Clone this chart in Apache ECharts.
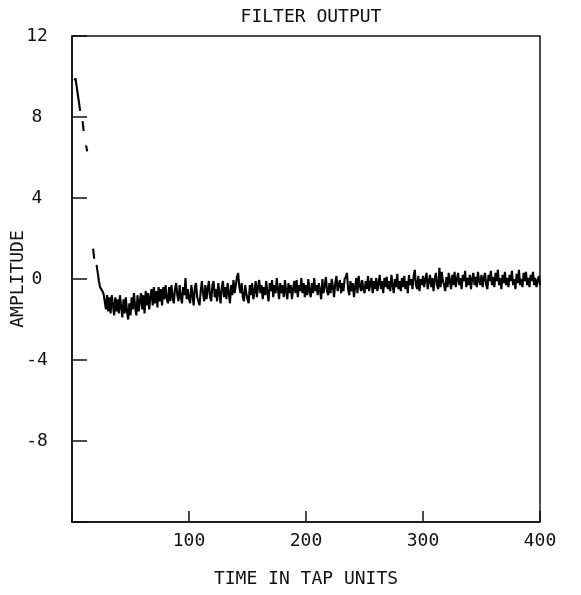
<!DOCTYPE html>
<html>
<head>
<meta charset="utf-8">
<script src="https://cdn.jsdelivr.net/npm/echarts@6/dist/echarts.min.js"></script>
<style>html,body{margin:0;padding:0;background:#fff}#c{width:581px;height:595px}</style>
</head>
<body>
<div id="c"></div>
<script>
// Amplitude per tap, tap index = array index (0..400); null = pen gap
var amplitude = [
  null, null, 9.8, 9.9, 9.5, 9.1, 8.7, 8.3, null, 7.8,
  7.3, null, 6.6, 6.3, null, null, null, null, 1.5, 1.0,
  null, 0.7, 0.3, -0.1, -0.4, -0.5, -0.6, -0.75, -0.7, -1.5,
  -0.8, -1.6, -0.9, -1.7, -0.8, -1.3, -1.8, -0.9, -1.6, -1.0,
  -1.7, -0.8, -1.4, -1.9, -1.0, -1.7, -0.9, -1.6, -2.0, -1.2,
  -1.8, -0.9, -1.5, -0.7, -1.4, -1.8, -0.8, -1.6, -1.1, -0.7,
  -1.5, -0.8, -1.7, -0.6, -1.3, -0.7, -1.5, -0.9, -0.5, -1.3,
  -0.4, -1.2, -0.6, -1.4, -0.4, -1.1, -0.5, -1.3, -0.4, -1.0,
  -0.3, -1.0, -1.2, -0.4, -1.1, -0.3, -0.9, -1.2, -0.5, -0.2,
  -0.8, -1.1, -0.3, -0.9, -1.2, -0.4, -0.8, 0.05, -1.0, -0.5,
  -1.0, -1.2, -0.3, -0.8, -1.3, -0.4, -0.2, -0.9, -1.1, -1.3,
  -0.6, -0.1, -0.7, -1.1, -0.3, -1.0, -0.5, -0.1, -0.9, -1.1,
  -0.3, -0.1, -0.9, -0.5, -1.1, -0.2, -0.7, -1.2, -0.4, -0.1,
  -0.9, -0.4, -1.0, -0.2, -0.7, -1.2, -0.3, -0.8, -0.05, -0.7,
  -0.3, 0.1, 0.3, -0.4, -0.7, -0.2, -0.9, -1.1, -0.3, -0.7,
  -1.0, -1.2, -0.3, -0.8, -0.2, -1.0, -0.6, -0.1, -0.9, -0.4,
  -0.05, -0.7, -0.3, -1.0, -0.4, -0.8, -0.1, -0.7, -1.1, -0.2,
  -0.6, -0.05, -0.9, -0.3, -0.7, 0.05, -0.5, -1.0, -0.2, -0.7,
  -0.3, -0.9, -0.05, -0.6, -1.0, -0.2, -0.7, -0.3, -1.0, -0.5,
  -0.1, -0.7, -0.05, -0.9, -0.3, -0.6, 0.05, -0.7, -0.2, -0.9,
  -0.3, -0.8, 0.0, -0.6, -0.9, -0.2, -0.7, 0.05, -0.6, -0.3,
  -0.8, -0.2, -0.6, -1.0, 0.0, -0.7, -0.3, 0.1, -0.6, -0.8,
  -0.2, -0.7, 0.0, -0.4, -0.9, -0.2, 0.15, -0.6, -0.3, -0.05,
  -0.7, -0.2, -0.6, 0.0, 0.1, 0.3, -0.5, -0.8, -0.1, -0.6,
  -0.2, -0.9, -0.4, 0.05, -0.7, 0.15, -0.3, -0.6, -0.05, -0.5,
  -0.7, -0.1, -0.5, 0.15, -0.6, -0.2, 0.05, -0.7, -0.1, -0.5,
  0.05, -0.6, -0.2, 0.2, -0.5, -0.1, -0.7, 0.05, -0.4, 0.1,
  -0.5, -0.1, -0.6, 0.2, -0.3, -0.7, 0.0, -0.4, 0.25, -0.5,
  -0.1, -0.6, 0.05, -0.4, 0.15, -0.5, -0.1, -0.7, 0.2, -0.3,
  0.0, -0.5, 0.15, 0.45, -0.3, -0.5, 0.15, -0.6, 0.0, -0.3,
  0.15, -0.4, 0.0, 0.3, -0.5, -0.1, 0.2, -0.4, 0.05, -0.6,
  0.0, 0.3, -0.3, -0.5, 0.55, -0.4, 0.35, -0.1, -0.3, -0.6,
  0.1, -0.4, 0.3, -0.1, -0.5, 0.2, -0.3, 0.35, -0.4, 0.0,
  0.3, -0.3, 0.05, -0.5, 0.2, -0.1, 0.4, -0.4, 0.05, -0.3,
  0.2, -0.5, 0.0, 0.3, -0.3, 0.1, -0.4, 0.35, -0.1, -0.3,
  0.2, -0.4, 0.05, 0.3, -0.3, -0.5, 0.2, -0.1, 0.4, -0.3,
  0.1, -0.4, 0.3, -0.1, 0.45, -0.3, 0.05, -0.5, 0.2, -0.2,
  0.35, -0.3, 0.05, -0.4, 0.2, -0.1, 0.4, -0.3, 0.0, -0.5,
  0.25, -0.2, 0.45, -0.3, 0.0, -0.4, 0.3, -0.1, 0.35, -0.3,
  0.05, -0.4, 0.2, -0.1, 0.35, -0.3, 0.05, -0.4, -0.1, 0.15,
  -0.3
];
var xTicks = [100, 200, 300, 400];
var yTicks = [12, 8, 4, 0, -4, -8];
var titleText = 'FILTER OUTPUT';
var xName = 'TIME IN TAP UNITS';
var yName = 'AMPLITUDE';

var points = amplitude.map(function (v, i) { return [i, v]; });
var FONT = 'DejaVu Sans Mono';
var chart = echarts.init(document.getElementById('c'), null, { renderer: 'canvas' });
chart.setOption({
  animation: false,
  backgroundColor: '#fff',
  title: {
    text: titleText, left: 306, top: 3, textAlign: 'center',
    textStyle: { fontFamily: FONT, fontSize: 18, fontWeight: 'normal', color: '#111' }
  },
  grid: {
    left: 72, right: 41, top: 36, bottom: 73, show: true,
    borderColor: '#111', borderWidth: 1.5,
    containLabel: false, outerBoundsMode: 'none'
  },
  xAxis: {
    type: 'value', min: 0, max: 400, interval: 100,
    name: xName, nameLocation: 'middle', nameGap: 48, nameMoveOverlap: false,
    nameTextStyle: { fontFamily: FONT, fontSize: 18, color: '#111' },
    axisLine: { show: true, onZero: false, lineStyle: { color: '#111', width: 1.5 } },
    axisTick: { show: true, inside: true, length: 11, lineStyle: { color: '#111', width: 1.5 } },
    splitLine: { show: false },
    axisLabel: {
      margin: 10, fontFamily: FONT, fontSize: 18, color: '#111',
      formatter: function (v) { return xTicks.indexOf(v) >= 0 ? String(v) : ''; }
    }
  },
  yAxis: {
    type: 'value', min: -12, max: 12, interval: 4,
    name: yName, nameLocation: 'middle', nameGap: 45, nameRotate: 90, nameMoveOverlap: false,
    nameTextStyle: { fontFamily: FONT, fontSize: 18, color: '#111' },
    axisLine: { show: true, onZero: false, lineStyle: { color: '#111', width: 1.5 } },
    axisTick: { show: true, inside: true, length: 15, lineStyle: { color: '#111', width: 1.5 } },
    splitLine: { show: false },
    axisLabel: {
      margin: 35, align: 'center', fontFamily: FONT, fontSize: 18, color: '#111',
      formatter: function (v) { return yTicks.indexOf(v) >= 0 ? String(v) : ''; }
    }
  },
  series: [{
    type: 'line', data: points, showSymbol: false, connectNulls: false,
    lineStyle: { color: '#000', width: 2.1 }
  }]
});
</script>
</body>
</html>
